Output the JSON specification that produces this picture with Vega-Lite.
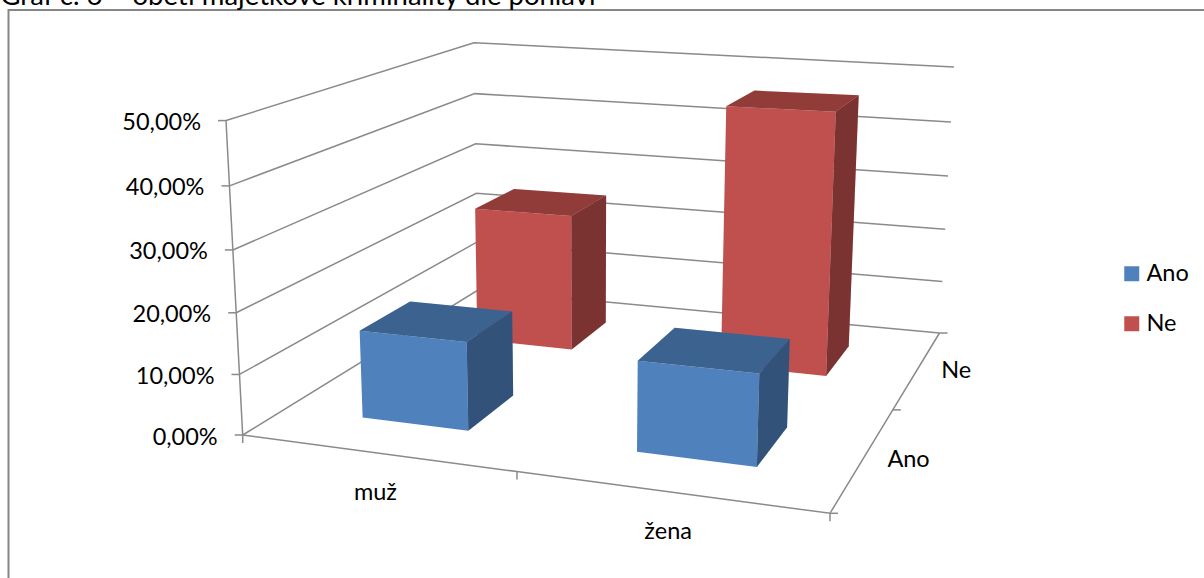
{
"$schema":"https://vega.github.io/schema/vega-lite/v6.json",
"autosize":{"type":"none"},
"padding":{"left":8.5,"top":10,"right":0,"bottom":0},
"width":1300,"height":700,
"background":"white",
"view":{"stroke":"#868686","strokeWidth":2,"fill":"white"},
"title":{"text":"Graf č. 6 – oběti majetkové kriminality dle pohlaví","anchor":"start","frame":"group","dx":-8,"offset":0,"font":"Lato","fontSize":27.5,"fontWeight":"normal","color":"#000000"},
"datasets":{
"bars":[
{"pohlavi":"muž","obet":"Ne","podil":24.8},
{"pohlavi":"žena","obet":"Ne","podil":45.8},
{"pohlavi":"muž","obet":"Ano","podil":14.6},
{"pohlavi":"žena","obet":"Ano","podil":14.5}],
"hodnoty":[{"hodnota":0},{"hodnota":10},{"hodnota":20},{"hodnota":30},{"hodnota":40},{"hodnota":50}],
"hrany":[{"u":0,"v":0},{"u":0.5,"v":0},{"u":1,"v":0},{"u":1,"v":0.5},{"u":1,"v":1}],
"popisky":[{"popis":"muž","u":0.25,"v":0},{"popis":"žena","u":0.75,"v":0},{"popis":"Ano","u":1,"v":0.25},{"popis":"Ne","u":1,"v":0.75}]
},
"encoding":{
"x":{"field":"X","type":"quantitative","scale":{"domain":[8.5,1308.5],"range":[0,1300],"nice":false,"zero":false},"axis":null},
"y":{"field":"Y","type":"quantitative","scale":{"domain":[10,710],"range":[0,700],"nice":false,"zero":false},"axis":null}
},
"layer":[
{"data":{"name":"hodnoty"},
"transform":[
{"calculate":"[{i:0,u:0,v:0},{i:1,u:0,v:1},{i:2,u:1,v:1}]","as":"rohy"},
{"flatten":["rohy"]},
{"calculate":"datum.rohy.i","as":"i"},
{"calculate":"datum.rohy.u","as":"u"},
{"calculate":"datum.rohy.v","as":"v"},
{"calculate":"datum.hodnota/50","as":"z"},
{"calculate":"1-0.12377*datum.u+0.30196*datum.v-0.0463*datum.z","as":"W"},
{"calculate":"(242.7+484.57*datum.u+379.64*datum.v-27.17*datum.z)/datum.W","as":"X"},
{"calculate":"(435+14.77*datum.u-57.43*datum.v-320*datum.z)/datum.W+datum.z*datum.v*(6.2*datum.u-3.1)","as":"Y"}],
"mark":{"type":"line","stroke":"#8a8a8a","strokeWidth":1.5},
"encoding":{"detail":{"field":"hodnota"},"order":{"field":"i"}}},
{"data":{"name":"hodnoty"},
"transform":[
{"calculate":"datum.hodnota/50","as":"z"},
{"calculate":"1-0.0463*datum.z","as":"W"},
{"calculate":"(242.7-27.17*datum.z)/datum.W","as":"X"},
{"calculate":"(435-320*datum.z)/datum.W","as":"Y"},
{"calculate":"datum.X-8","as":"X2"},
{"calculate":"datum.X-25","as":"XT"},
{"calculate":"datum.Y+2.5","as":"YT"},
{"calculate":"replace(format(datum.hodnota,'.2f'),'.',',')+'%'","as":"popis"}],
"layer":[
{"mark":{"type":"line","stroke":"#8a8a8a","strokeWidth":1.5},"encoding":{"order":{"field":"hodnota"}}},
{"mark":{"type":"rule","stroke":"#8a8a8a","strokeWidth":1.5},"encoding":{"x2":{"field":"X2"}}},
{"mark":{"type":"text","align":"right","baseline":"middle","font":"Lato","fontSize":23.5,"color":"#000000"},
"encoding":{"x":{"field":"XT","type":"quantitative"},"y":{"field":"YT","type":"quantitative"},"text":{"field":"popis"}}}
]},
{"data":{"name":"hrany"},
"transform":[
{"calculate":"1-0.12377*datum.u+0.30196*datum.v","as":"W"},
{"calculate":"(242.7+484.57*datum.u+379.64*datum.v)/datum.W","as":"X"},
{"calculate":"(435+14.77*datum.u-57.43*datum.v)/datum.W","as":"Y"},
{"calculate":"datum.X+8","as":"X2"},
{"calculate":"datum.Y+8","as":"Y2"},
{"calculate":"datum.u+datum.v","as":"i"}],
"layer":[
{"mark":{"type":"line","stroke":"#8a8a8a","strokeWidth":1.5},"encoding":{"order":{"field":"i"}}},
{"transform":[{"filter":"datum.v==0"}],"mark":{"type":"rule","stroke":"#8a8a8a","strokeWidth":1.5},"encoding":{"y2":{"field":"Y2"}}},
{"transform":[{"filter":"datum.u==1"}],"mark":{"type":"rule","stroke":"#8a8a8a","strokeWidth":1.5},"encoding":{"x2":{"field":"X2"}}}
]},
{"data":{"name":"popisky"},
"transform":[
{"calculate":"1-0.12377*datum.u+0.30196*datum.v","as":"W"},
{"calculate":"(242.7+484.57*datum.u+379.64*datum.v)/datum.W+(datum.v==0?0:23.5)","as":"X"},
{"calculate":"(435+14.77*datum.u-57.43*datum.v)/datum.W+(datum.v==0?40:2)","as":"Y"}],
"layer":[
{"transform":[{"filter":"datum.v==0"}],"mark":{"type":"text","align":"center","baseline":"middle","font":"Lato","fontSize":23.5,"color":"#000000"},"encoding":{"text":{"field":"popis"}}},
{"transform":[{"filter":"datum.v!=0"}],"mark":{"type":"text","align":"left","baseline":"middle","font":"Lato","fontSize":23.5,"color":"#000000"},"encoding":{"text":{"field":"popis"}}}
]},
{"data":{"name":"bars"},
"transform":[
{"calculate":"[{s:'top',i:0,a:0,b:0,c:1},{s:'top',i:1,a:1,b:0,c:1},{s:'top',i:2,a:1,b:1,c:1},{s:'top',i:3,a:0,b:1,c:1},{s:'front',i:0,a:0,b:0,c:1},{s:'front',i:1,a:1,b:0,c:1},{s:'front',i:2,a:1,b:0,c:0},{s:'front',i:3,a:0,b:0,c:0},{s:'side',i:0,a:1,b:0,c:1},{s:'side',i:1,a:1,b:1,c:1},{s:'side',i:2,a:1,b:1,c:0},{s:'side',i:3,a:1,b:0,c:0}]","as":"rohy"},
{"flatten":["rohy"]},
{"calculate":"datum.rohy.s","as":"s"},
{"calculate":"datum.rohy.i","as":"i"},
{"calculate":"datum.pohlavi+datum.obet+datum.s","as":"stena"},
{"calculate":"(datum.pohlavi=='muž'?0.25:0.75)+(datum.rohy.a-0.5)*0.2","as":"u"},
{"calculate":"(datum.obet=='Ano'?0.25:0.75)+(datum.rohy.b-0.5)*0.2","as":"v"},
{"calculate":"datum.podil/50*datum.rohy.c","as":"z"},
{"calculate":"1-0.12377*datum.u+0.30196*datum.v-0.0463*datum.z","as":"W"},
{"calculate":"(242.7+484.57*datum.u+379.64*datum.v-27.17*datum.z)/datum.W","as":"X"},
{"calculate":"(435+14.77*datum.u-57.43*datum.v-320*datum.z)/datum.W","as":"Y"}],
"layer":[
{"mark":{"type":"line","strokeOpacity":0,"fillOpacity":1},
"encoding":{"detail":{"field":"stena"},"order":{"field":"i"},
"fill":{"field":"obet","type":"nominal","scale":{"domain":["Ano","Ne"],"range":["#4F81BD","#C0504D"]},
"legend":{"title":null,"orient":"none","legendX":1111.5,"legendY":252,"symbolType":"square","symbolSize":225,"symbolStrokeWidth":0,"symbolOpacity":1,"labelFont":"Lato","labelFontSize":23.5,"labelColor":"#000000","labelOffset":3,"rowPadding":25}}}},
{"transform":[{"filter":"datum.s!='front'"}],"mark":{"type":"line","strokeOpacity":0,"fill":"#000000"},
"encoding":{"detail":{"field":"stena"},"order":{"field":"i"},
"fillOpacity":{"field":"s","type":"nominal","scale":{"domain":["top","side"],"range":[0.24,0.36]},"legend":null}}}
]}
]
}
